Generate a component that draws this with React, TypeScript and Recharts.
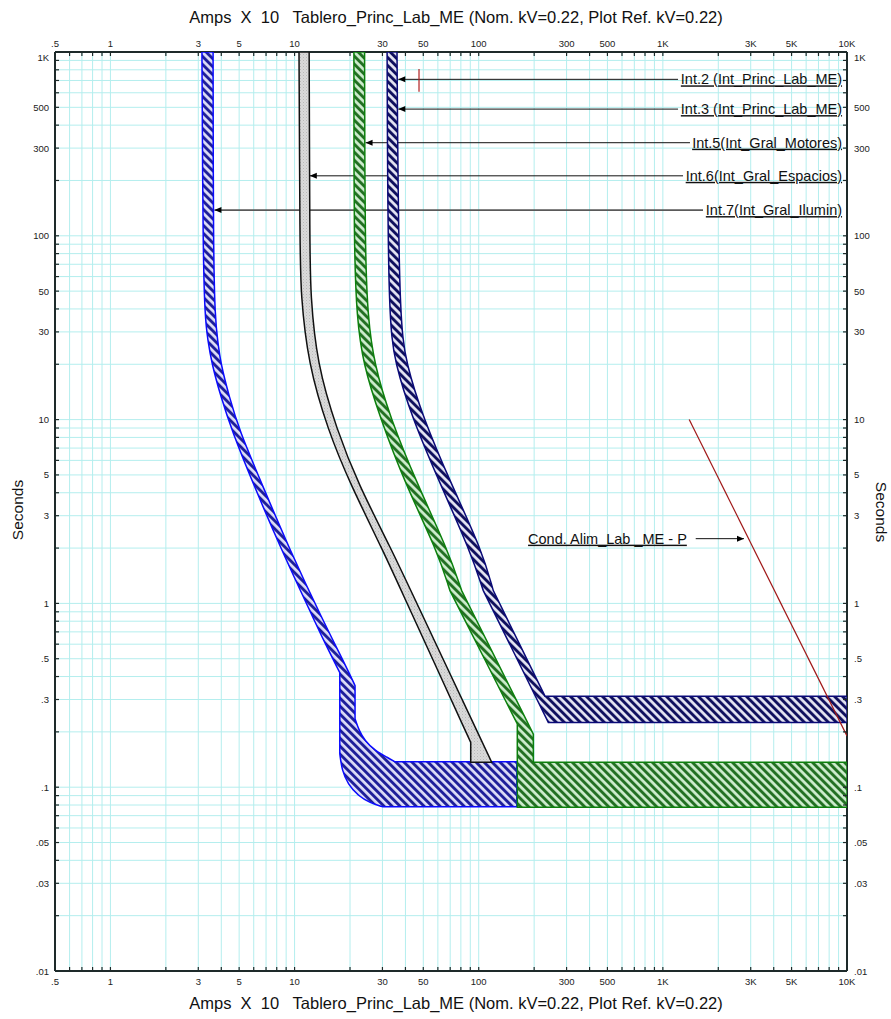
import React from "react";
import { ScatterChart, Scatter, XAxis, YAxis, CartesianGrid } from "recharts";

// log ticks (every integer multiple per decade)
const xTicks = [
  0.5, 0.6, 0.7, 0.8, 0.9, 1, 2, 3, 4, 5, 6, 7, 8, 9, 10, 20, 30, 40, 50, 60, 70, 80, 90, 100, 200, 300, 400, 500,
  600, 700, 800, 900, 1000, 2000, 3000, 4000, 5000, 6000, 7000, 8000, 9000, 10000,
];
const yTicks = [
  0.01, 0.02, 0.03, 0.04, 0.05, 0.06, 0.07, 0.08, 0.09, 0.1, 0.2, 0.3, 0.4, 0.5, 0.6, 0.7, 0.8, 0.9, 1, 2, 3, 4, 5, 6,
  7, 8, 9, 10, 20, 30, 40, 50, 60, 70, 80, 90, 100, 200, 300, 400, 500, 600, 700, 800, 900, 1000,
];
const xLabelValues = [0.5, 1, 3, 5, 10, 30, 50, 100, 300, 500, 1000, 3000, 5000, 10000];
const xLabelTexts = [".5", "1", "3", "5", "10", "30", "50", "100", "300", "500", "1K", "3K", "5K", "10K"];
const yLabelValues = [1000, 500, 300, 100, 50, 30, 10, 5, 3, 1, 0.5, 0.3, 0.1, 0.05, 0.03, 0.01];
const yLabelTexts = ["1K", "500", "300", "100", "50", "30", "10", "5", "3", "1", ".5", ".3", ".1", ".05", ".03", ".01"];

// Int.7 (Int_Gral_Ilumin) band
const int7Amps = [
  3.14, 3.18, 3.26, 3.38, 3.55, 3.96, 4.56, 5.95, 8.51, 12.6, 14.4, 17.6, 17.6, 18.1, 19.5, 22.1, 25.7, 30.2, 161, 161,
  35.1, 32.2, 27.3, 24.1, 22.4, 21.3, 21.3, 19.2, 14.0, 9.45, 6.63, 5.01, 4.4, 3.97, 3.82, 3.7, 3.62, 3.61, 3.14,
];
const int7Secs = [
  1000, 83.5, 36, 27, 20.2, 13.5, 8.73, 4.49, 1.94, 0.837, 0.627, 0.42, 0.152, 0.123, 0.104, 0.0898, 0.0822, 0.0782,
  0.0782, 0.1375, 0.1375, 0.1446, 0.158, 0.179, 0.203, 0.236, 0.357, 0.447, 0.837, 1.94, 4.49, 8.73, 13.5, 20.2, 27,
  36, 83.5, 1000, 1000,
];
const int7Corners = [0, 11, 12, 17, 18, 19, 20, 25, 26, 37, 38];

// Int.6 (Int_Gral_Espacios) band
const int6Amps = [
  10.57, 10.7, 10.8, 11.83, 15.19, 20.0, 30.2, 39.5, 56.7, 90.5, 90.5, 117.6, 42.8, 33.8, 22.1, 17.0, 13.2, 12.2, 12.1,
  12.0, 10.57,
];
const int6Secs = [
  1000, 83.5, 48.7, 20.2, 8.73, 4.49, 1.94, 1.075, 0.488, 0.175, 0.1367, 0.1367, 1.174, 1.94, 4.49, 8.73, 20.2, 48.7,
  83.5, 1000, 1000,
];
const int6Corners = [0, 9, 10, 11, 19, 20];

// Int.5 (Int_Gral_Motores) band
const int5Amps = [
  21.0, 21.0, 21.8, 23.5, 29.1, 39.8, 59.4, 69.8, 162, 162, 10000, 10000, 198, 198, 80.8, 68.1, 46.2, 33.0, 27.0, 25.0,
  24.1, 24.0, 21.0,
];
const int5Secs = [
  1000, 83.5, 36, 20.2, 10.28, 4.49, 1.94, 1.174, 0.2208, 0.0777, 0.0777, 0.1367, 0.1367, 0.1946, 1.174, 1.94, 4.49,
  10.28, 20.2, 36, 83.5, 1000, 1000,
];
const int5Corners = [0, 7, 8, 9, 10, 11, 12, 13, 14, 21, 22];

// Int.2 / Int.3 (Int_Princ_Lab_ME) band
const int3Amps = [
  31.8, 32.2, 35.1, 43.4, 61.6, 89.7, 105.9, 238.8, 10000, 10000, 229.1, 120.0, 104.2, 70.7, 49.8, 40.3, 36.9, 36.0,
  31.8,
];
const int3Secs = [
  1000, 36, 20.2, 10.28, 4.49, 1.94, 1.174, 0.2251, 0.2251, 0.3128, 0.3128, 1.174, 1.94, 4.49, 10.28, 20.2, 36, 1000,
  1000,
];
const int3Corners = [0, 6, 7, 8, 9, 10, 11, 17, 18];

// cable damage curve and its marker
const cableAmps = [1390, 10000];
const cableSecs = [10, 0.19];
const markAmps = [47.4, 47.4];
const markSecs = [608, 808];

// label arrows
const arrowNames = [
  "Int.2 (Int_Princ_Lab_ME)",
  "Int.3 (Int_Princ_Lab_ME)",
  "Int.5(Int_Gral_Motores)",
  "Int.6(Int_Gral_Espacios)",
  "Int.7(Int_Gral_Ilumin)",
];
const arrowSecs = [710, 489, 321, 212, 138];
const arrowTipAmps = [36.6, 36.6, 24.3, 12.1, 3.67];
const arrowTailAmps = [1209, 1209, 1404, 1287, 1652];
const arrowLabelAmps = 9400;

const condName = "Cond. Alim_Lab _ME - P";
const condSecs = 2.25;
const condTailAmps = 1508;
const condTipAmps = 2758;
const condLabelAmps = 1350;

const toPoints = (amps: number[], secs: number[]) => amps.map((a, i) => ({ amps: a, secs: secs[i] }));

// corner points are repeated so the smoothed outline keeps its sharp corners
const toOutline = (amps: number[], secs: number[], corners: number[]) =>
  amps.flatMap((a, i) => {
    const p = { amps: a, secs: secs[i] };
    return corners.includes(i) ? [p, p, p] : [p];
  });

const FONT = "'Liberation Sans', Arial, sans-serif";
const TICK_COLOR = "#222";
const AXIS_COLOR = "#1e2a2a";
const GRID_COLOR = "#b4eeee";

const xLabel = (v: number) => {
  const i = xLabelValues.indexOf(v);
  return i >= 0 ? xLabelTexts[i] : null;
};
const yLabel = (v: number) => {
  const i = yLabelValues.indexOf(v);
  return i >= 0 ? yLabelTexts[i] : null;
};

const XTick = ({ x, y, payload, side }: any) => {
  const top = side === "top";
  const label = xLabel(payload.value);
  return (
    <g>
      <line x1={x} x2={x} y1={y} y2={top ? y + 4 : y - 4} stroke={AXIS_COLOR} strokeWidth={1.2} />
      {label && (
        <text x={x} y={top ? y - 9 : y + 10} textAnchor="middle" dominantBaseline="central" fontSize={9.5} fill={TICK_COLOR} fontFamily={FONT}>
          {label}
        </text>
      )}
    </g>
  );
};

const YTick = ({ x, y, payload, side }: any) => {
  const left = side === "left";
  const label = yLabel(payload.value);
  const dy = payload.value === 1000 ? 5 : 0;
  return (
    <g>
      <line x1={x} x2={left ? x + 4 : x - 4} y1={y} y2={y} stroke={AXIS_COLOR} strokeWidth={1.2} />
      {label && (
        <text x={left ? x - 6 : x + 7} y={y + dy} textAnchor={left ? "end" : "start"} dominantBaseline="central" fontSize={9.5} fill={TICK_COLOR} fontFamily={FONT}>
          {label}
        </text>
      )}
    </g>
  );
};

const Nothing = () => <g />;

const ArrowShape = (props: any) => {
  const { cx, cy, payload } = props;
  if (payload.head === "left")
    return <polygon points={`${cx},${cy} ${cx + 7},${cy - 3} ${cx + 7},${cy + 3}`} fill="#000" />;
  if (payload.head === "right")
    return <polygon points={`${cx},${cy} ${cx - 7},${cy - 3} ${cx - 7},${cy + 3}`} fill="#000" />;
  return <g />;
};

const LabelShape = (props: any) => {
  const { cx, cy, payload } = props;
  return (
    <text x={cx} y={cy + 5} textAnchor="end" fontSize={14.5} fill="#111" fontFamily={FONT} textDecoration="underline">
      {payload.name}
    </text>
  );
};

const bands = [
  { id: "int7", data: toOutline(int7Amps, int7Secs, int7Corners), stroke: "#0a0aff", fill: "url(#hatchBlue)" },
  { id: "int6", data: toOutline(int6Amps, int6Secs, int6Corners), stroke: "#111", fill: "url(#dotsGray)" },
  { id: "int5", data: toOutline(int5Amps, int5Secs, int5Corners), stroke: "#0c800c", fill: "url(#hatchGreen)" },
  { id: "int3", data: toOutline(int3Amps, int3Secs, int3Corners), stroke: "#0a0a78", fill: "url(#hatchNavy)" },
];

const arrowData = arrowNames.map((_, i) => [
  { amps: arrowTipAmps[i], secs: arrowSecs[i], head: "left" },
  { amps: arrowTailAmps[i], secs: arrowSecs[i], head: "" },
]);
const labelData = arrowNames.map((n, i) => ({ amps: arrowLabelAmps, secs: arrowSecs[i], name: n }));
const condArrowData = [
  { amps: condTailAmps, secs: condSecs, head: "" },
  { amps: condTipAmps, secs: condSecs, head: "right" },
];
const condLabelData = [{ amps: condLabelAmps, secs: condSecs, name: condName }];

const titleText = "Amps  X  10   Tablero_Princ_Lab_ME (Nom. kV=0.22, Plot Ref. kV=0.22)";

const textStyle: React.CSSProperties = {
  position: "absolute",
  fontFamily: FONT,
  color: "#111",
  whiteSpace: "pre",
  lineHeight: 1,
};

export default function App() {
  return (
    <div style={{ position: "absolute", left: 0, top: 0, width: 891, height: 1019, background: "#fff" }}>
      <ScatterChart width={891} height={1019} margin={{ top: 32, right: 14, bottom: 28, left: 25 }}>
        <defs>
          <pattern id="hatchBlue" width="5.66" height="5.66" patternUnits="userSpaceOnUse" patternTransform="rotate(-45)">
            <rect width="5.66" height="5.66" fill="#dcdcf6" />
            <rect width="2.9" height="5.66" fill="#1f1f9a" />
          </pattern>
          <pattern id="hatchNavy" width="5.66" height="5.66" patternUnits="userSpaceOnUse" patternTransform="rotate(-45)">
            <rect width="5.66" height="5.66" fill="#e4e4f2" />
            <rect width="2.9" height="5.66" fill="#10105e" />
          </pattern>
          <pattern id="hatchGreen" width="5.66" height="5.66" patternUnits="userSpaceOnUse" patternTransform="rotate(-45)">
            <rect width="5.66" height="5.66" fill="#cdeccd" />
            <rect width="2.9" height="5.66" fill="#237023" />
          </pattern>
          <pattern id="dotsGray" width="3" height="3" patternUnits="userSpaceOnUse">
            <rect width="3" height="3" fill="#dadada" />
            <rect width="1" height="1" fill="#b8b8b8" />
            <rect x="1.5" y="1.5" width="1" height="1" fill="#c6c6c6" />
          </pattern>
        </defs>
        <CartesianGrid stroke={GRID_COLOR} strokeWidth={1} />
        <XAxis
          dataKey="amps"
          type="number"
          scale="log"
          domain={[0.5, 10000]}
          allowDataOverflow
          ticks={xTicks}
          interval={0}
          height={20}
          tickSize={0}
          tickMargin={0}
          tickLine={false}
          axisLine={{ stroke: AXIS_COLOR, strokeWidth: 2 }}
          tick={(p: any) => <XTick {...p} side="bottom" />}
        />
        <XAxis
          xAxisId="top"
          orientation="top"
          dataKey="amps"
          type="number"
          scale="log"
          domain={[0.5, 10000]}
          allowDataOverflow
          ticks={xTicks}
          interval={0}
          height={20}
          tickSize={0}
          tickMargin={0}
          tickLine={false}
          axisLine={{ stroke: AXIS_COLOR, strokeWidth: 2 }}
          tick={(p: any) => <XTick {...p} side="top" />}
        />
        <YAxis
          dataKey="secs"
          type="number"
          scale="log"
          domain={[0.01, 1000]}
          allowDataOverflow
          ticks={yTicks}
          interval={0}
          width={30}
          tickSize={0}
          tickMargin={0}
          tickLine={false}
          axisLine={{ stroke: AXIS_COLOR, strokeWidth: 2 }}
          tick={(p: any) => <YTick {...p} side="left" />}
        />
        <YAxis
          yAxisId="right"
          orientation="right"
          dataKey="secs"
          type="number"
          scale="log"
          domain={[0.01, 1000]}
          allowDataOverflow
          ticks={yTicks}
          interval={0}
          width={30}
          tickSize={0}
          tickMargin={0}
          tickLine={false}
          axisLine={{ stroke: AXIS_COLOR, strokeWidth: 2 }}
          tick={(p: any) => <YTick {...p} side="right" />}
        />

        {arrowData.map((d, i) => (
          <Scatter
            key={`arrow-${i}`}
            data={d}
            isAnimationActive={false}
            line={{ stroke: i === 4 ? "#5a5a5a" : "#111", strokeWidth: i === 4 ? 1.6 : 1 }}
            lineType="joint"
            shape={ArrowShape}
          />
        ))}

        {bands.map((b) => (
          <Scatter
            key={b.id}
            data={b.data}
            isAnimationActive={false}
            line={{ stroke: b.stroke, strokeWidth: 1.5, fill: b.fill, strokeLinejoin: "miter" }}
            lineType="joint"
            lineJointType="basis"
            shape={Nothing}
          />
        ))}

        <Scatter data={labelData} isAnimationActive={false} shape={LabelShape} />
        <Scatter
          data={toPoints(markAmps, markSecs)}
          isAnimationActive={false}
          line={{ stroke: "#b02020", strokeWidth: 1.2 }}
          lineType="joint"
          shape={Nothing}
        />
        <Scatter
          data={condArrowData}
          isAnimationActive={false}
          line={{ stroke: "#111", strokeWidth: 1 }}
          lineType="joint"
          shape={ArrowShape}
        />
        <Scatter data={condLabelData} isAnimationActive={false} shape={LabelShape} />
        <Scatter
          data={toPoints(cableAmps, cableSecs)}
          isAnimationActive={false}
          line={{ stroke: "#a01818", strokeWidth: 1.2 }}
          lineType="joint"
          shape={Nothing}
        />
      </ScatterChart>

      <div style={{ ...textStyle, left: 456, top: 17, fontSize: 16.5, transform: "translate(-50%, -50%)" }}>{titleText}</div>
      <div style={{ ...textStyle, left: 456, top: 1003, fontSize: 16.5, transform: "translate(-50%, -50%)" }}>{titleText}</div>
      <div style={{ ...textStyle, left: 18, top: 510, fontSize: 15.5, transform: "translate(-50%, -50%) rotate(-90deg)" }}>Seconds</div>
      <div style={{ ...textStyle, left: 881, top: 512, fontSize: 15.5, transform: "translate(-50%, -50%) rotate(90deg)" }}>Seconds</div>
    </div>
  );
}
